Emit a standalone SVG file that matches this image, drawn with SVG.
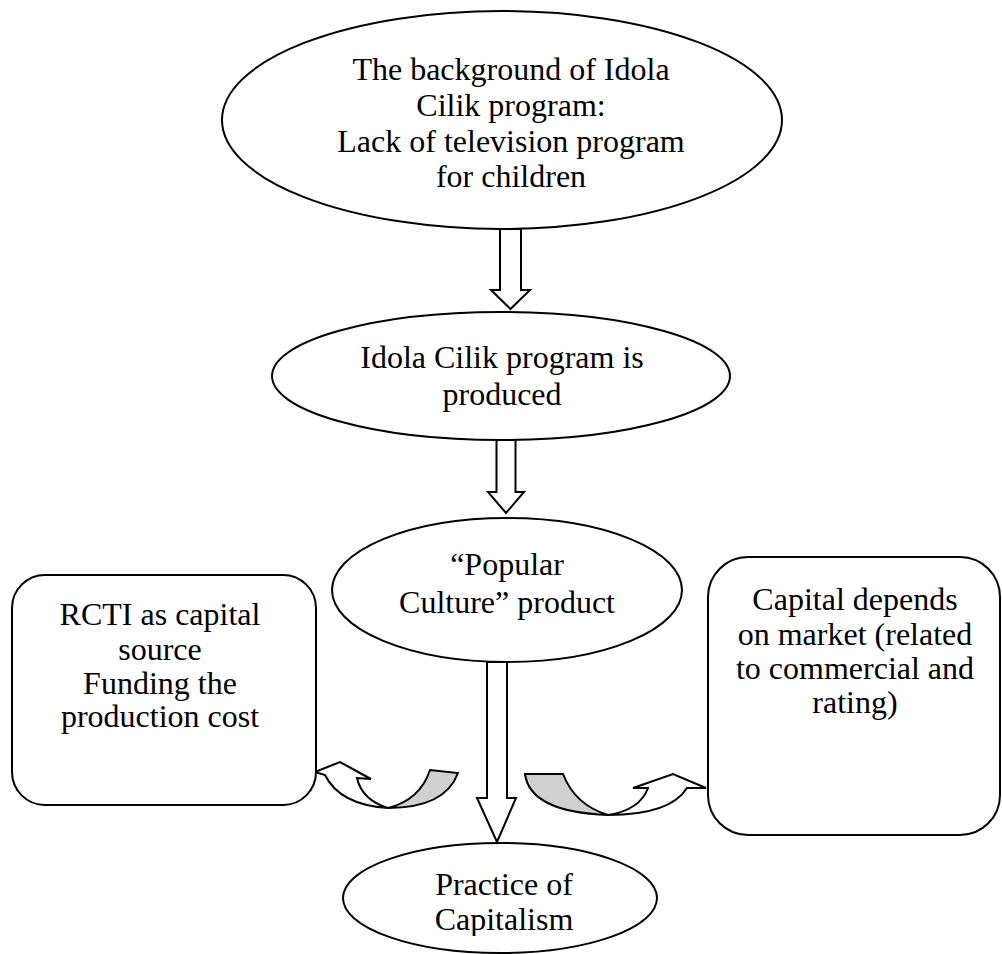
<svg xmlns="http://www.w3.org/2000/svg" width="1002" height="954" viewBox="0 0 1002 954">
<style>
.sh{fill:#fff;stroke:#000;stroke-width:2}
.ar{fill:#fff;stroke:#000;stroke-width:2;stroke-linejoin:miter}
.gr{fill:#d0d0d0;stroke:#000;stroke-width:2}
text{font-family:"Liberation Serif","Times New Roman",serif;font-size:32px;fill:#000;text-anchor:middle}
</style>
<defs>
<clipPath id="clip4"><rect x="0" y="0" width="1002" height="936"/></clipPath>
</defs>
<rect width="1002" height="954" fill="#fff"/>
<g id="connectors">
<path class="ar" d="M500,229 H521 V290 H530 L510.5,309 L491,290 H500 Z"/>
<path class="ar" d="M496.5,440 H515.5 V492 H524 L506,513 L488,492 H496.5 Z"/>
<path class="ar" d="M487,662 H507 V798 H516 L497,842 L477,798 H487 Z"/>
<g id="curve-left">
<path class="gr" d="M388,808 Q445,808 458,773 L430,770 Q420,800 388,808 Z"/>
<path class="ar" d="M315,772 L340,762 L371,779 L357,778 Q362,800 388,808 Q340,805 325,775 Z"/>
</g>
<g id="curve-right">
<path class="gr" d="M525,774 L563,774 Q575,805 608,815 Q530,812 525,774 Z"/>
<path class="ar" d="M608,815 Q640,810 648,788 L633,788 L673,774 L706,788 L687,788 Q670,815 608,815 Z"/>
</g>
</g>
<g id="node-background">
<ellipse class="sh" cx="502" cy="120" rx="280" ry="109"/>
<text x="511" y="80">The background of Idola</text>
<text x="511" y="116">Cilik program:</text>
<text x="511" y="152">Lack of television program</text>
<text x="511" y="187">for children</text>
</g>
<g id="node-produced">
<ellipse class="sh" cx="501" cy="376" rx="229" ry="64"/>
<text x="502" y="368">Idola Cilik program is</text>
<text x="502" y="405">produced</text>
</g>
<g id="node-popular">
<ellipse class="sh" cx="507" cy="590" rx="175" ry="72"/>
<text x="507" y="575">“Popular</text>
<text x="507" y="613">Culture” product</text>
</g>
<g id="node-rcti">
<rect class="sh" x="12" y="575" width="304" height="230" rx="33"/>
<text x="160" y="625">RCTI as capital</text>
<text x="160" y="660">source</text>
<text x="160" y="694">Funding the</text>
<text x="160" y="727">production cost</text>
</g>
<g id="node-market">
<rect class="sh" x="708" y="557" width="292" height="278" rx="40"/>
<text x="855" y="610">Capital depends</text>
<text x="855" y="645">on market (related</text>
<text x="855" y="679">to commercial and</text>
<text x="855" y="713">rating)</text>
</g>
<g id="node-capitalism">
<ellipse class="sh" cx="500" cy="898" rx="157" ry="55"/>
<g clip-path="url(#clip4)">
<text x="504" y="895">Practice of</text>
<text x="504" y="930">Capitalism</text>
</g>
</g>
</svg>
